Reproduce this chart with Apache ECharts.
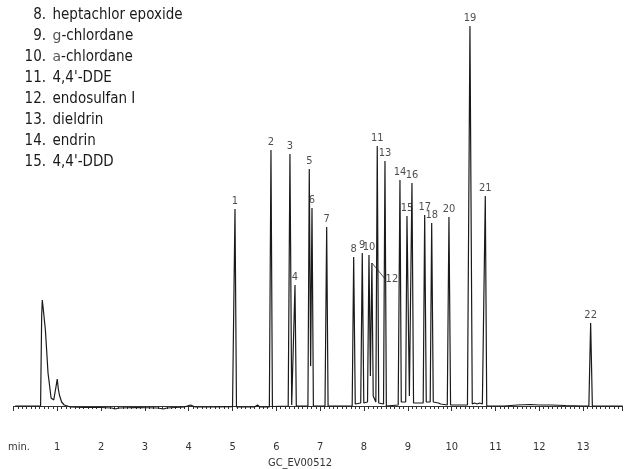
<!DOCTYPE html>
<html>
<head>
<meta charset="utf-8">
<script src="https://cdn.jsdelivr.net/npm/echarts@6/dist/echarts.min.js"></script>
<style>
  html, body { margin: 0; padding: 0; background: #fff; }
  #chart { width: 626px; height: 469px; }
</style>
</head>
<body>
<div id="chart"></div>
<script>
var FONT = "'Liberation Sans Narrow', 'DejaVu Sans Condensed', 'Arial Narrow', sans-serif";

// detector trace: [minutes, signal]
var trace = [
    [0.04, 0], [0.62, 0], [0.645, 90], [0.659, 106], [0.672, 101], [0.69, 99], [0.73, 76],
    [0.79, 33], [0.86, 8], [0.92, 6], [0.975, 20], [1.0, 27], [1.025, 17], [1.05, 11],
    [1.07, 9], [1.1, 4], [1.16, 1], [1.3, -1], [1.6, -1.5], [2.0, -1.5], [2.25, -2],
    [2.32, -3], [2.4, -2], [2.8, -1.5], [3.3, -2], [3.42, -3], [3.5, -2], [3.9, -1],
    [4.04, 1], [4.15, -1], [4.6, -1], [5.0, -0.7],
    [5.02, 0], [5.056, 197], [5.09, -1], [5.5, -1], [5.57, 1], [5.62, -1], [5.84, -1],
    [5.877, 256], [5.91, -0.5], [6.27, 0], [6.31, 252], [6.35, 1], [6.395, 1], [6.425, 121],
    [6.455, 0], [6.72, 0], [6.751, 237], [6.782, 40], [6.813, 198], [6.845, 0],
    [7.11, 0], [7.148, 179], [7.18, 0], [7.73, 0], [7.764, 149], [7.80, 2], [7.925, 3],
    [7.96, 153], [7.995, 3], [8.08, 4], [8.113, 151], [8.145, 30], [8.18, 143], [8.21, 10],
    [8.27, 4], [8.302, 260], [8.335, 3], [8.445, 2], [8.478, 245], [8.51, 0], [8.78, 1],
    [8.82, 226], [8.85, 4], [8.95, 4], [8.98, 190], [9.035, 10], [9.094, 223], [9.13, 3],
    [9.2, 3], [9.35, 3], [9.384, 191], [9.42, 4], [9.51, 4], [9.544, 183], [9.58, 4],
    [9.7, 3], [9.72, 5], [9.75, 2], [9.9, 1], [9.938, 189], [9.975, 1], [10.36, 1],
    [10.417, 380], [10.47, 2], [10.52, 3], [10.54, 5], [10.58, 2], [10.64, 3], [10.66, 5],
    [10.7, 2], [10.73, 1], [10.767, 210], [10.80, 0], [11.2, 0], [11.5, 1], [11.8, 1.5],
    [12.0, 1], [12.26, 1], [12.6, 0.5], [13.0, 0], [13.13, 0], [13.171, 83], [13.21, 0],
    [13.9, 0]
];

// peak numbers, retention times (min) and apex heights
var peakNames = ['1', '2', '3', '4', '5', '6', '7', '8', '9', '10', '11',
    '12', '13', '14', '15', '16', '17', '18', '19', '20', '21', '22'];
var peakTimes = [5.056, 5.877, 6.31, 6.425, 6.751, 6.813, 7.148, 7.764, 7.96, 8.113, 8.302,
    8.18, 8.478, 8.82, 8.98, 9.094, 9.384, 9.544, 10.417, 9.938, 10.767, 13.171];
var peakHeights = [197, 256, 252, 121, 237, 198, 179, 149, 153, 151, 260,
    143, 245, 226, 190, 223, 191, 183, 380, 189, 210, 83];

// compounds listed in the key
var keyNumbers = ['8.', '9.', '10.', '11.', '12.', '13.', '14.', '15.'];
var keyNames = ['heptachlor epoxide', '{sym|g}-chlordane', '{sym|a}-chlordane', "4,4'-DDE",
    'endosulfan I', 'dieldrin', 'endrin', "4,4'-DDD"];

var tickLabels = ['', '1', '2', '3', '4', '5', '6', '7', '8', '9', '10', '11', '12', '13'];

// small nudges for crowded labels
var labelNudge = { '6': [2, 0], '8': [-4, 3], '9': [-3, 1], '15': [-1, 0], '19': [0, 1], '22': [0, -2] };

var chart = echarts.init(document.getElementById('chart'));

var peakData = peakNames.map(function (n, i) {
    var item = { name: n, value: [peakTimes[i], peakHeights[i]] };
    if (labelNudge[n]) item.label = { offset: labelNudge[n] };
    if (n === '12') item.labelLine = { show: true };
    return item;
});

var graphics = [];
keyNumbers.forEach(function (num, i) {
    var y = 15 + i * 21;
    graphics.push({
        type: 'text', x: 46, y: y,
        style: { text: num, align: 'right', verticalAlign: 'middle',
            font: '15px ' + FONT, fill: '#1a1a1a' }
    });
    graphics.push({
        type: 'text', x: 52.5, y: y,
        style: {
            text: keyNames[i], verticalAlign: 'middle', font: '15px ' + FONT, fill: '#1a1a1a',
            rich: { sym: { fontFamily: 'DejaVu Sans', fontSize: 14, fill: '#555' } }
        }
    });
});
graphics.push({
    type: 'text', x: 8, y: 447,
    style: { text: 'min.', verticalAlign: 'middle', font: '11px ' + FONT, fill: '#333' }
});
graphics.push({
    type: 'text', x: 300, y: 463,
    style: { text: 'GC_EV00512', align: 'center', verticalAlign: 'middle', font: '11px ' + FONT, fill: '#333' }
});

var option = {
    animation: false,
    grid: { left: 13.4, right: 3.4, top: 0, bottom: 37 },
    xAxis: {
        type: 'value', min: 0, max: 13.9, interval: 1,
        axisLine: { show: true, lineStyle: { color: '#333', width: 1 } },
        axisTick: { show: true, length: 5, lineStyle: { color: '#333' } },
        minorTick: { show: true, splitNumber: 10, length: 3, lineStyle: { color: '#333' } },
        axisLabel: {
            margin: 10, fontSize: 11, fontFamily: FONT, color: '#333',
            formatter: function (v) { return tickLabels[Math.round(v)] || ''; }
        },
        splitLine: { show: false }
    },
    yAxis: {
        type: 'value', min: -26, max: 406, show: false
    },
    series: [
        {
            type: 'line', data: trace, showSymbol: false, symbol: 'none',
            lineStyle: { color: '#1a1a1a', width: 1.2 }, z: 2
        },
        {
            type: 'scatter', data: peakData, symbolSize: 0, z: 3,
            label: {
                show: true, position: 'top', distance: 2, formatter: '{b}',
                fontSize: 11, fontFamily: FONT, color: '#222'
            },
            labelLine: { lineStyle: { color: '#222', width: 0.8 } },
            labelLayout: function (p) {
                return p.dataIndex === 11 ? { dx: 20, dy: 24 } : {};
            }
        }
    ],
    graphic: graphics
};

chart.setOption(option);
</script>
</body>
</html>
